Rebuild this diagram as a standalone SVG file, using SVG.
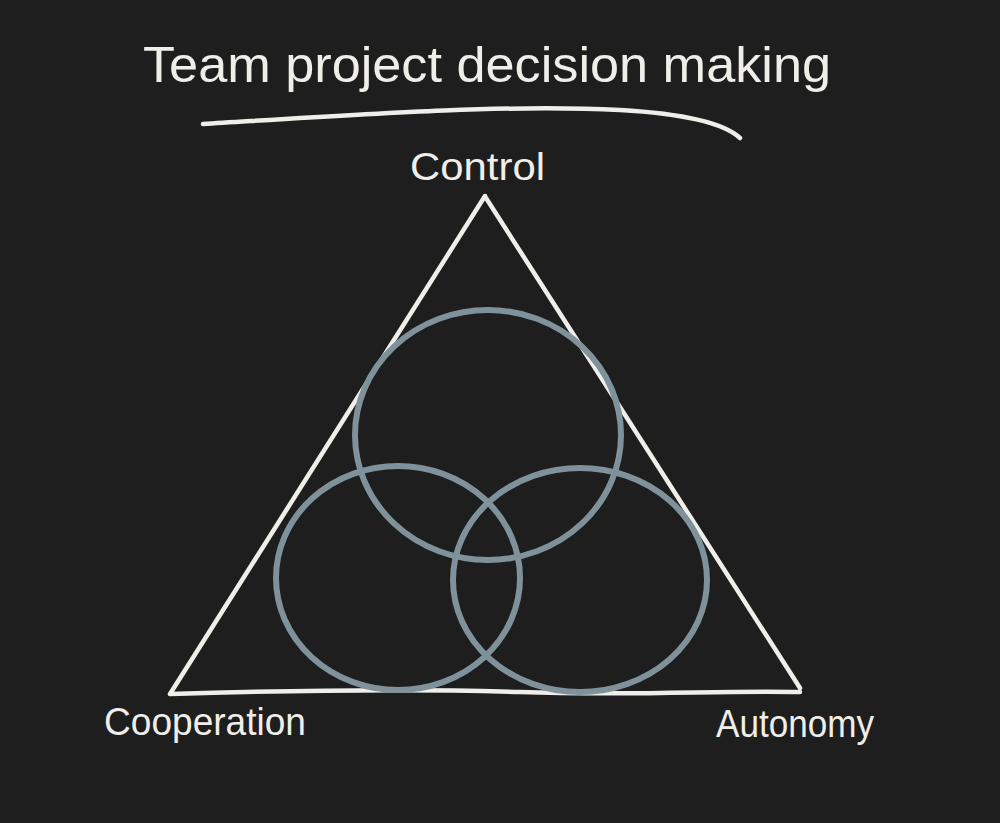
<svg xmlns="http://www.w3.org/2000/svg" width="1000" height="823" viewBox="0 0 1000 823">
<style>
.ink{fill:none;stroke:#efeee9;stroke-width:4.5;stroke-linecap:round;stroke-linejoin:round}
.ring{fill:none;stroke:#7f929b;stroke-width:6;stroke-linecap:round}
.t{fill:#efeee9;font-family:"Liberation Sans",Arial,sans-serif}
</style>
<rect width="1000" height="823" fill="#1e1e1e"/>
<g id="title">
<text class="t" x="143" y="82" font-size="50" textLength="688" lengthAdjust="spacingAndGlyphs">Team project decision making</text>
<path class="ink" d="M203,124 C 350,115 500,104 620,110 C 690,114 725,124 740,138"/>
</g>
<g id="triangle">
<path class="ink" d="M485,196 L170,694 C 300,690 420,689 520,692 C 640,696 720,690 800,692 M486,198 L800,688"/>
</g>
<g id="circles">
<ellipse id="circle-control" class="ring" cx="488" cy="435" rx="133" ry="125"/>
<ellipse id="circle-cooperation" class="ring" cx="398" cy="578" rx="122" ry="112"/>
<ellipse id="circle-autonomy" class="ring" cx="580" cy="580" rx="127" ry="112"/>
</g>
<g id="labels">
<text class="t" x="410" y="180" font-size="38" textLength="135" lengthAdjust="spacingAndGlyphs">Control</text>
<text class="t" x="104" y="735" font-size="38" textLength="202" lengthAdjust="spacingAndGlyphs">Cooperation</text>
<text class="t" x="716" y="737" font-size="38" textLength="158" lengthAdjust="spacingAndGlyphs">Autonomy</text>
</g>
</svg>
